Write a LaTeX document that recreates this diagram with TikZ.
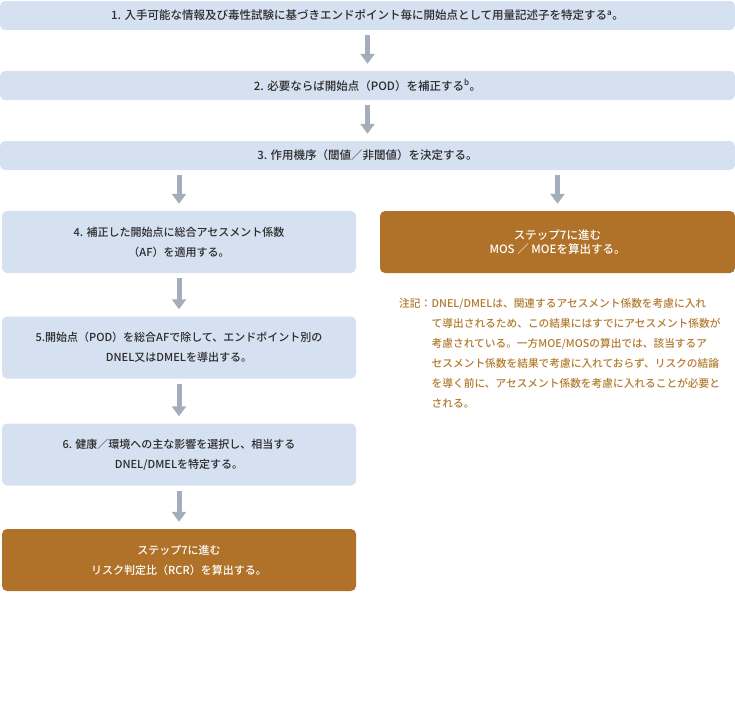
\documentclass[tikz,border=0pt]{standalone}
\usepackage{fontspec}
\setmainfont{Noto Sans CJK JP}[UprightFont=* Medium]
\usetikzlibrary{arrows.meta,positioning}
\definecolor{stepblue}{HTML}{D5E1F1}
\definecolor{gobrown}{HTML}{B07229}
\definecolor{flowgray}{HTML}{A4ADBB}
\definecolor{notebrown}{HTML}{B27A2E}
\definecolor{ink}{HTML}{2B2B2B}

\begin{document}
\begin{tikzpicture}[x=1pt,y=-1pt,
  wide/.style={draw=none,fill=stepblue,rounded corners=5pt,minimum width=735pt,minimum height=29pt,inner sep=0pt,text=ink,font=\fontsize{11.5}{14}\selectfont},
  half/.style={draw=none,fill=stepblue,rounded corners=5pt,minimum width=354pt,minimum height=62pt,inner sep=0pt,align=center,text=ink,font=\fontsize{11}{20}\selectfont},
  gobox/.style={half,fill=gobrown,text=white},
  flow/.style={-{Triangle[width=14pt,length=10pt]},draw=flowgray,line width=5pt,shorten <=5pt,shorten >=7pt}
]
\useasboundingbox (0,0) rectangle (735,715);
\node[wide] (b1) at (367.5,15.5) {1. 入手可能な情報及び毒性試験に基づきエンドポイント毎に開始点として用量記述子を特定する\textsuperscript{a}。};
\node[wide] (b2) at (367.5,85.5) {2. 必要ならば開始点（POD）を補正する\textsuperscript{b}。};
\node[wide] (b3) at (367.5,155.5) {3. 作用機序（閾値／非閾値）を決定する。};
\node[half] (b4) at (179,242) {4. 補正した開始点に総合アセスメント係数\\（AF）を適用する。};
\node[gobox,minimum width=355pt,font=\fontsize{11.5}{14}\selectfont] (mos) at (557.5,242) {ステップ7に進む\\MOS ／ MOEを算出する。};
\node[half] (b5) at (179,347.5) {5.開始点（POD）を総合AFで除して、エンドポイント別の\\DNEL又はDMELを導出する。};
\node[half] (b6) at (179,454.5) {6. 健康／環境への主な影響を選択し、相当する\\DNEL/DMELを特定する。};
\node[gobox] (rcr) at (179,560) {ステップ7に進む\\リスク判定比（RCR）を算出する。};
% flow
\draw[flow] (b1) -- (b2);
\draw[flow] (b2) -- (b3);
\draw[flow] (b3.south -| b4) -- (b4);
\draw[flow] (b3.south -| mos) -- (mos);
\draw[flow] (b4) -- (b5);
\draw[flow] (b5) -- (b6);
\draw[flow] (b6) -- (rcr);
% note
\node[anchor=north west,inner sep=0pt,text=notebrown,font=\fontsize{10.7}{20}\selectfont] (notelbl) at (399,298) {注記：};
\node[anchor=north west,inner sep=0pt,text=notebrown,align=left,font=\fontsize{10.7}{20}\selectfont] (note) at (notelbl.north east) {DNEL/DMELは、関連するアセスメント係数を考慮に入れ\\て導出されるため、この結果にはすでにアセスメント係数が\\考慮されている。一方MOE/MOSの算出では、該当するア\\セスメント係数を結果で考慮に入れておらず、リスクの結論\\を導く前に、アセスメント係数を考慮に入れることが必要と\\される。};
\end{tikzpicture}
\end{document}
